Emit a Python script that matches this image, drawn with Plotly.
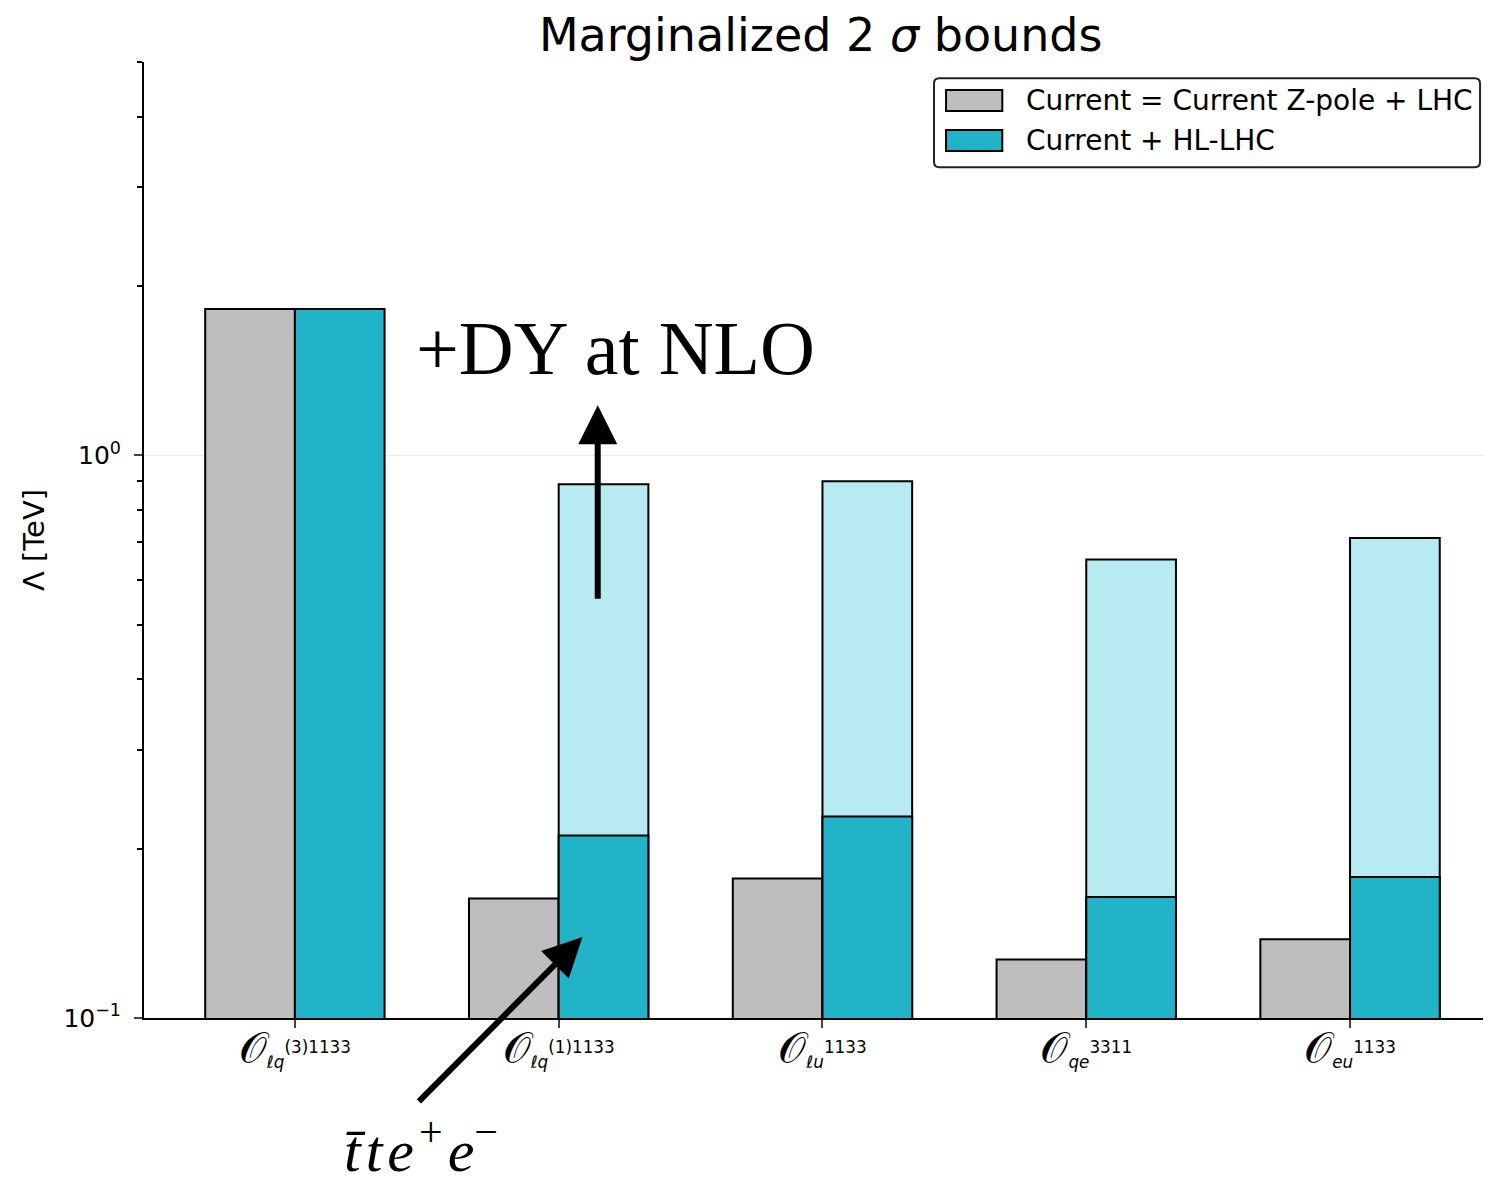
import plotly.graph_objects as go

O = '<span style="font-size:44px">𝒪</span>'
operators = [O + "<sub><i>ℓq</i></sub><sup>(3)1133</sup>", O + "<sub><i>ℓq</i></sub><sup>(1)1133</sup>",
             O + "<sub><i>ℓu</i></sub><sup>1133</sup>", O + "<sub><i>qe</i></sub><sup>3311</sup>",
             O + "<sub><i>eu</i></sub><sup>1133</sup>"]
current = [1.82, 0.163, 0.177, 0.127, 0.138]
hl_lhc = [1.82, 0.211, 0.228, 0.164, 0.178]
hl_lhc_dy_nlo = [None, 0.888, 0.899, 0.653, 0.713]
legend_labels = ["Current = Current Z-pole + LHC", "Current + HL-LHC"]

pos = list(range(len(operators)))
w = 0.34
gray = "#bebebe"
teal = "#21b4c9"
light = "#b8eaf1"

fig = go.Figure()
fig.add_trace(go.Bar(x=[p - w / 2 for p in pos], y=current, width=w, name=legend_labels[0], showlegend=False,
                     marker=dict(color=gray, line=dict(color="black", width=2))))
fig.add_trace(go.Bar(x=[p + w / 2 for p in pos], y=hl_lhc_dy_nlo, width=w, showlegend=False,
                     marker=dict(color=light, line=dict(color="black", width=2))))
fig.add_trace(go.Bar(x=[p + w / 2 for p in pos], y=hl_lhc, width=w, name=legend_labels[1], showlegend=False,
                     marker=dict(color=teal, line=dict(color="black", width=2))))

font_main = "DejaVu Sans"
fig.update_layout(
    width=1475, height=1176,
    margin=dict(l=136, r=0, t=54, b=166),
    barmode="overlay",
    paper_bgcolor="white", plot_bgcolor="white",
    font=dict(family=font_main, color="black"),
    title=dict(text="Marginalized 2 <i>σ</i> bounds", x=0.551, xanchor="center", y=0.977, yanchor="middle",
               font=dict(size=46, family=font_main)),
    xaxis=dict(range=[-0.572, 4.504], tickvals=pos, ticktext=operators, ticks="outside", ticklen=8,
               tickwidth=2, showline=True, linecolor="black", linewidth=2, showgrid=False, zeroline=False,
               ticklabelstandoff=6, tickfont=dict(size=24, family=font_main)),
    yaxis=dict(type="log", range=[-1, 0.699], tickvals=[0.1, 1], ticktext=["10<sup>−1</sup>", "10<sup>0</sup>"],
               ticks="outside", ticklen=8, tickwidth=2, showline=True, linecolor="black", linewidth=2,
               showgrid=True, gridcolor="#ebebeb", gridwidth=1, zeroline=False, ticklabelstandoff=8,
               tickfont=dict(size=25, family=font_main),
               title=dict(text="Λ [TeV]", font=dict(size=29, family=font_main), standoff=10),
               minor=dict(tickvals=[0.2, 0.3, 0.4, 0.5, 0.6, 0.7, 0.8, 0.9, 2, 3, 4, 5], ticks="outside",
                          ticklen=5, tickwidth=1.5, tickcolor="black", showgrid=False)),
)

# custom legend (box, swatches, labels) in paper coordinates
x0, x1, y0, y1, rx, ry = 0.590, 0.9978, 0.890, 0.983, 0.004, 0.0055
path = (f"M {x0+rx},{y0} L {x1-rx},{y0} Q {x1},{y0} {x1},{y0+ry} L {x1},{y1-ry} Q {x1},{y1} {x1-rx},{y1} "
        f"L {x0+rx},{y1} Q {x0},{y1} {x0},{y1-ry} L {x0},{y0+ry} Q {x0},{y0} {x0+rx},{y0} Z")
fig.add_shape(type="path", path=path, xref="paper", yref="paper", line=dict(color="#222", width=2),
              fillcolor="white", layer="above")
for (sy0, sy1, ty, col, lab) in [(0.9487, 0.9707, 0.9597, gray, legend_labels[0]),
                                  (0.9069, 0.9289, 0.9179, teal, legend_labels[1])]:
    fig.add_shape(type="rect", xref="paper", yref="paper", x0=0.599, x1=0.641, y0=sy0, y1=sy1,
                  fillcolor=col, line=dict(color="black", width=2), layer="above")
    fig.add_annotation(x=0.657, y=ty, xref="paper", yref="paper", text=lab, showarrow=False,
                       xanchor="left", yanchor="middle", font=dict(size=28, family=font_main, color="black"))

fig.add_annotation(x=1.148, y=0.0888, xref="x", yref="y", ax=1.148, ay=-0.2575, axref="x", ayref="y",
                   text="", showarrow=True, arrowhead=2, arrowsize=1.3, arrowwidth=6, arrowcolor="black")
fig.add_annotation(x=1.09, y=-0.856, xref="x", yref="y", ax=-165, ay=166,
                   text="", showarrow=True, arrowhead=2, arrowsize=1.3, arrowwidth=6, arrowcolor="black")
fig.add_annotation(x=1.216, y=0.19, xref="x", yref="y", text="+DY at NLO", showarrow=False,
                   font=dict(size=76, family="Liberation Serif", color="black"))
hs = "\u200a"
fig.add_annotation(x=0.2065, y=-0.134, xref="paper", yref="paper", xanchor="center", yanchor="middle",
                   text=f"<i>t̄{hs}t{hs}e</i>{hs}<sup>+</sup>{hs}<i>e</i><sup>−</sup>",
                   showarrow=False, font=dict(size=60, family="Liberation Serif", color="black"))

fig.write_html("out.html")
